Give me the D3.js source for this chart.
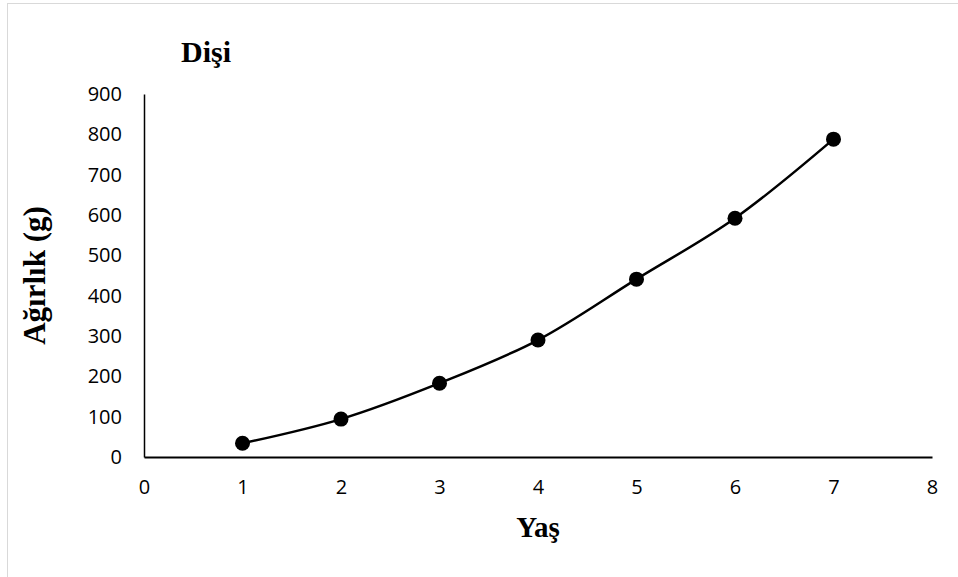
<!DOCTYPE html>
<html>
<head>
<meta charset="utf-8">
<script src="https://cdn.jsdelivr.net/npm/d3@7"></script>
<style>
  html, body { margin: 0; padding: 0; background: #fff; }
  svg { display: block; }
</style>
</head>
<body>
<svg id="chart" width="958" height="577"></svg>
<script>
const ages = [1, 2, 3, 4, 5, 6, 7];
const weights = [34, 94, 183, 290, 441, 592, 788];
const xTicks = [0, 1, 2, 3, 4, 5, 6, 7, 8];
const yTicks = [0, 100, 200, 300, 400, 500, 600, 700, 800, 900];
const titleText = "Dişi";
const xLabel = "Yaş";
const yLabel = "Ağırlık (g)";

const svg = d3.select("#chart");

// outer frame (only left/top visible as in reference)
svg.append("rect").attr("x", 7.5).attr("y", 3.5).attr("width", 1000).attr("height", 1000)
  .attr("fill", "none").attr("stroke", "#d9d9d9").attr("stroke-width", 1);

const x = d3.scaleLinear().domain([0, 8]).range([144, 932]);
const y = d3.scaleLinear().domain([0, 900]).range([457, 94]);

const tickFont = "'Open Sans', sans-serif";

// x axis
const xAxis = svg.append("g").attr("transform", `translate(0,${y(0)})`)
  .call(d3.axisBottom(x).tickValues(xTicks).tickSize(0).tickPadding(23).tickFormat(d3.format("d")));
xAxis.select(".domain").attr("stroke", "#000").attr("stroke-width", 2.2);
xAxis.selectAll("text").attr("font-family", tickFont).attr("font-size", 20).attr("fill", "#000");

// y axis
const yAxis = svg.append("g").attr("transform", `translate(${x(0)},0)`)
  .call(d3.axisLeft(y).tickValues(yTicks).tickSize(0).tickPadding(22).tickFormat(d3.format("d")));
yAxis.select(".domain").attr("stroke", "#000").attr("stroke-width", 1.5);
yAxis.selectAll("text").attr("font-family", tickFont).attr("font-size", 20).attr("fill", "#000");

// line
const data = ages.map((a, i) => ({ a, w: weights[i] }));
const line = d3.line().x(d => x(d.a)).y(d => y(d.w)).curve(d3.curveCatmullRom.alpha(0.5));
svg.append("path").datum(data).attr("d", line)
  .attr("fill", "none").attr("stroke", "#000").attr("stroke-width", 2.5);

svg.selectAll("circle.pt").data(data).enter().append("circle")
  .attr("class", "pt")
  .attr("cx", d => x(d.a)).attr("cy", d => y(d.w)).attr("r", 7.5)
  .attr("fill", "#000");

// titles
const serif = "'Liberation Serif', 'Times New Roman', serif";
svg.append("text").attr("x", 181).attr("y", 62).text(titleText)
  .attr("font-family", serif).attr("font-weight", "bold").attr("font-size", 30).attr("fill", "#000");

svg.append("text").attr("x", (x(0) + x(8)) / 2).attr("y", 537).attr("text-anchor", "middle").text(xLabel)
  .attr("font-family", serif).attr("font-weight", "bold").attr("font-size", 29).attr("fill", "#000");

svg.append("text").attr("transform", `translate(45,${(y(0) + y(900)) / 2}) rotate(-90)`)
  .attr("text-anchor", "middle").text(yLabel)
  .attr("font-family", serif).attr("font-weight", "bold").attr("font-size", 31).attr("fill", "#000");
</script>
</body>
</html>
